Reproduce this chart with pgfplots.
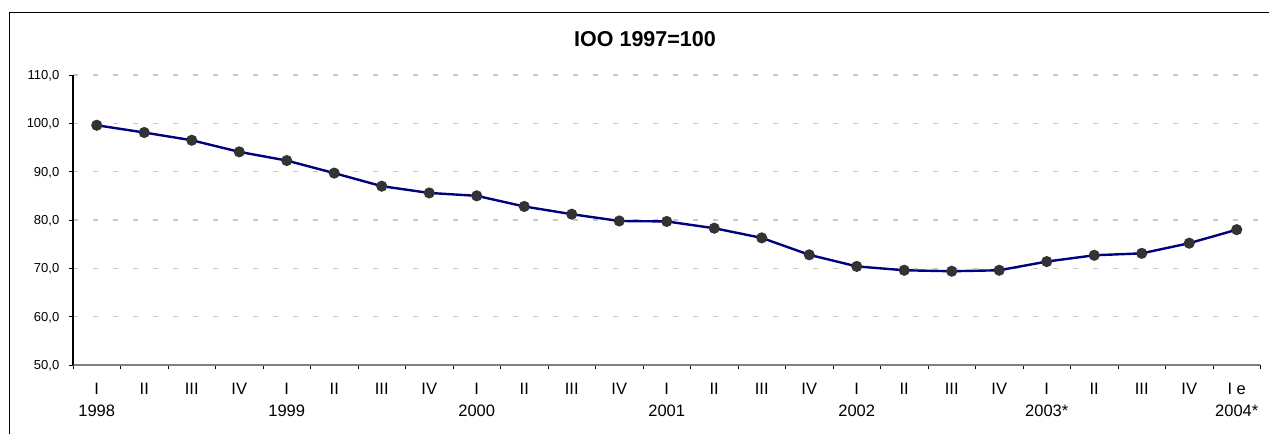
\documentclass[border=0pt]{standalone}
\usepackage{fontspec}
\setmainfont{Liberation Sans}
\usepackage{pgfplots}
\pgfplotsset{compat=1.18}
\definecolor{navyline}{HTML}{000080}
\definecolor{markgray}{HTML}{333333}
\definecolor{gridgray}{HTML}{C8C8C8}
\definecolor{axgray}{HTML}{808080}
\begin{document}
\begin{tikzpicture}
\path[use as bounding box] (0pt,0pt) rectangle (1269pt,434pt);
\draw[line width=1.5pt] (9.3pt,0pt) -- (9.3pt,421.7pt) -- (1269pt,421.7pt);
\node[font=\fontsize{21.5}{25}\selectfont\bfseries, inner sep=0pt] at (645pt,394.5pt) {IOO 1997=100};
\begin{axis}[
  at={(73pt,69pt)}, anchor=south west, scale only axis,
  width=1187.5pt, height=290pt,
  xmin=-0.5, xmax=24.5, ymin=50, ymax=110,
  axis lines=left, axis line style={-},
  x axis line style={axgray, line width=1.8pt},
  y axis line style={black, line width=1.2pt},
  tick align=outside, major tick length=4pt,
  tick style={black, line width=0.9pt},
  ytick={50,60,...,110},
  yticklabels={{50,0},{60,0},{70,0},{80,0},{90,0},{100,0},{110,0}},
  yticklabel style={font=\fontsize{13}{15}\selectfont, inner sep=0pt, anchor=base east, xshift=-9.5pt, yshift=-4.6pt},
  ymajorgrids,
  y grid style={gridgray, line width=1.2pt, dash pattern=on 5pt off 15pt, dash phase=0.3pt},
  xtick={-0.5,0.5,...,24.5},
  xticklabels={\empty},
  extra x ticks={0,1,...,24},
  extra x tick labels={{I\\1998},II,III,IV,{I\\1999},II,III,IV,{I\\2000},II,III,IV,{I\\2001},II,III,IV,{I\\2002},II,III,IV,{I\\2003*},II,III,IV,{I e\\2004*}},
  extra x tick style={grid=none, major tick length=0pt, tick style={draw=none},
    xticklabel style={align=center, font=\fontsize{16.5}{21.7}\selectfont, inner sep=0pt, anchor=north, yshift=-18pt}},
  clip=false,
]
\addplot[navyline, line width=2.4pt, mark=*, mark size=4.3pt, mark options={fill=markgray, draw=markgray, solid}] coordinates {
(0,99.6) (1,98.1) (2,96.5) (3,94.1) (4,92.3) (5,89.7) (6,87.0) (7,85.6) (8,85.0) (9,82.8) (10,81.2) (11,79.8) (12,79.7) (13,78.3) (14,76.3) (15,72.8) (16,70.4) (17,69.6) (18,69.4) (19,69.6) (20,71.4) (21,72.7) (22,73.1) (23,75.2) (24,78.0)
};
\end{axis}
\end{tikzpicture}
\end{document}
